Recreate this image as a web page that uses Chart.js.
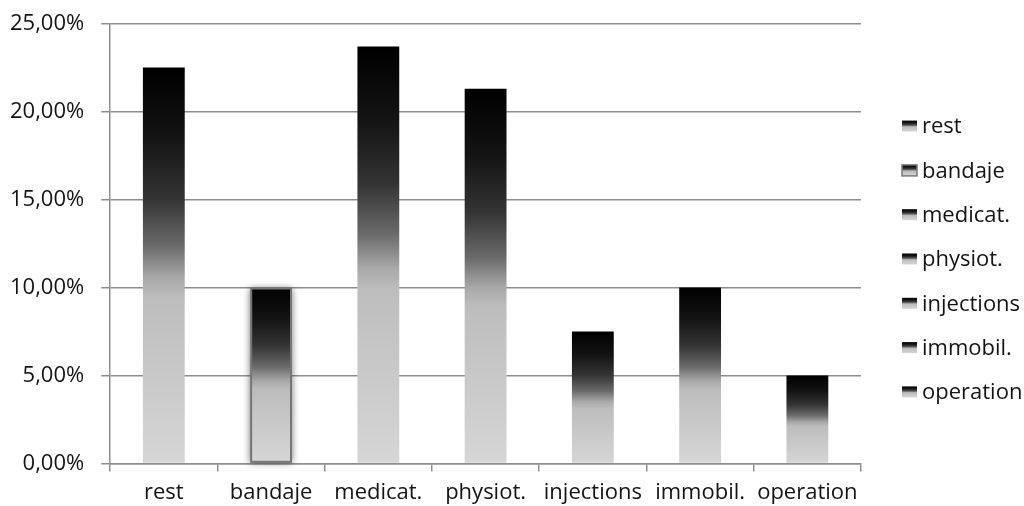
<!DOCTYPE html>
<html>
<head>
<meta charset="utf-8">
<script src="https://cdn.jsdelivr.net/npm/chart.js@4/dist/chart.umd.min.js"></script>
<style>
  html, body { margin: 0; padding: 0; background: #fff; }
  #wrap { width: 1024px; height: 506px; }
</style>
</head>
<body>
<div id="wrap"><canvas id="c" width="1024" height="506"></canvas></div>
<script>
// Treatment categories and their share (in %)
const categories = ['rest', 'bandaje', 'medicat.', 'physiot.', 'injections', 'immobil.', 'operation'];
const shares = [22.5, 10, 23.7, 21.3, 7.5, 10, 5];
const yTicks = [0, 5, 10, 15, 20, 25];
const outlined = ['bandaje'];

const FONT = "'Open Sans', sans-serif";
const TEXT = '#141414';
const GRID = '#8e8e8e';

// Dark-to-light vertical fill used for every bar and legend swatch
function shade(ctx, top, bottom) {
  const g = ctx.createLinearGradient(0, top, 0, bottom);
  g.addColorStop(0.00, '#000000');
  g.addColorStop(0.18, '#141414');
  g.addColorStop(0.33, '#343434');
  g.addColorStop(0.45, '#6a6a6a');
  g.addColorStop(0.53, '#a8a8a8');
  g.addColorStop(0.58, '#bdbdbd');
  g.addColorStop(1.00, '#d6d6d6');
  return g;
}

function barFill(context) {
  const chart = context.chart;
  const y = chart.scales.y;
  if (!chart.chartArea || !y) return '#888';
  const v = context.parsed ? context.parsed.y : context.raw;
  const top = y.getPixelForValue(v);
  const bottom = y.getPixelForValue(0);
  return shade(chart.ctx, top, bottom);
}

// Soft drop shadow behind outlined bars
const shadowPlugin = {
  id: 'barShadow',
  beforeDatasetsDraw(chart) {
    const meta = chart.getDatasetMeta(0);
    const ctx = chart.ctx;
    meta.data.forEach((bar, i) => {
      if (!outlined.includes(categories[i])) return;
      const w = bar.width;
      ctx.save();
      ctx.shadowColor = 'rgba(0,0,0,0.55)';
      ctx.shadowBlur = 7;
      ctx.shadowOffsetX = 0;
      ctx.shadowOffsetY = 0;
      ctx.fillStyle = '#888';
      ctx.fillRect(bar.x - w / 2, bar.y, w, bar.base - bar.y);
      ctx.restore();
    });
  }
};

// Category legend drawn at the right of the plot
const sideLegend = {
  id: 'sideLegend',
  afterDraw(chart) {
    const ctx = chart.ctx;
    const area = chart.chartArea;
    const step = 44.3;
    const midY = 259;
    const boxX = area.right + 41;
    const boxW = 15, boxH = 11;
    ctx.save();
    ctx.font = '22px ' + FONT;
    ctx.textBaseline = 'middle';
    ctx.textAlign = 'left';
    categories.forEach((name, i) => {
      const cy = midY + (i - (categories.length - 1) / 2) * step;
      const top = cy - boxH / 2;
      ctx.fillStyle = shade(ctx, top, top + boxH);
      ctx.fillRect(boxX, top, boxW, boxH);
      if (outlined.includes(name)) {
        ctx.strokeStyle = '#7a7a7a';
        ctx.lineWidth = 1.5;
        ctx.strokeRect(boxX, top, boxW, boxH);
      }
      ctx.fillStyle = TEXT;
      ctx.fillText(name, boxX + boxW + 5, cy + 1);
    });
    ctx.restore();
  }
};

new Chart(document.getElementById('c'), {
  type: 'bar',
  data: {
    labels: categories,
    datasets: [{
      data: shares,
      backgroundColor: barFill,
      borderColor: '#767676',
      borderWidth: categories.map(c => outlined.includes(c) ? 2 : 0),
      borderSkipped: false,
      categoryPercentage: 1,
      barPercentage: 0.39
    }]
  },
  options: {
    responsive: false,
    animation: false,
    devicePixelRatio: 1,
    layout: { padding: { left: -7, top: 0, right: 163, bottom: -8 } },
    plugins: {
      legend: { display: false },
      tooltip: { enabled: false }
    },
    scales: {
      x: {
        offset: true,
        grid: { display: true, drawOnChartArea: false, drawTicks: true, tickLength: 8, color: GRID, lineWidth: 1.5 },
        border: { display: true, color: GRID, width: 1.5 },
        ticks: {
          color: TEXT,
          font: { family: FONT, size: 22 },
          padding: 8,
          autoSkip: false,
          maxRotation: 0
        }
      },
      y: {
        min: 0,
        max: 25,
        afterBuildTicks(scale) { scale.ticks = yTicks.map(v => ({ value: v })); },
        grid: { color: GRID, lineWidth: 1.5, tickLength: 9 },
        border: { display: true, color: GRID, width: 1.5 },
        ticks: {
          color: TEXT,
          font: { family: FONT, size: 22, lineHeight: 0.6 },
          padding: 17,
          callback: v => v.toFixed(2).replace('.', ',') + '%'
        }
      }
    }
  },
  plugins: [shadowPlugin, sideLegend]
});
</script>
</body>
</html>
